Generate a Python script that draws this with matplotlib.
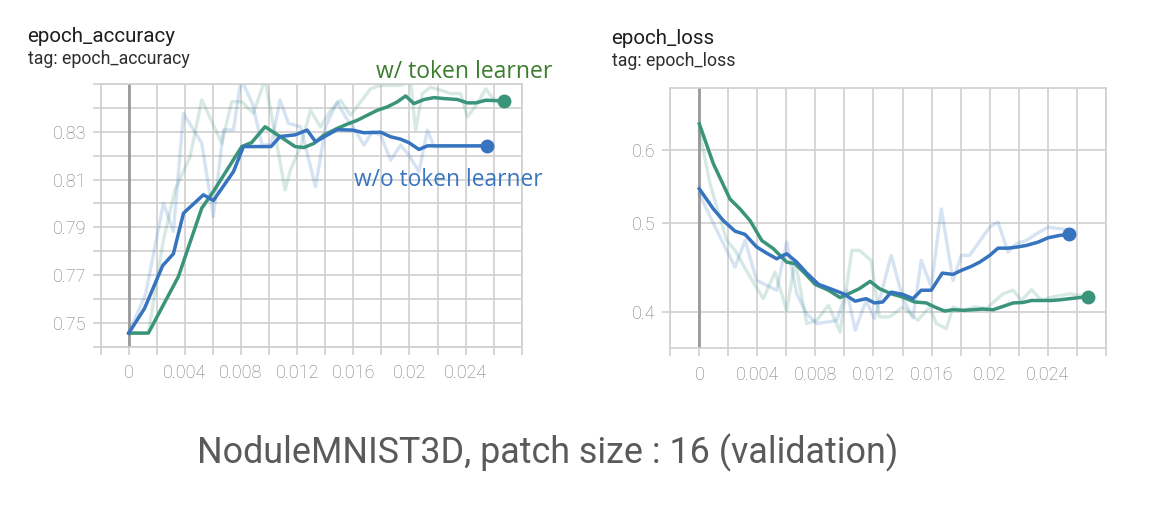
import matplotlib
matplotlib.use("Agg")
import matplotlib.pyplot as plt
import numpy as np

# ---------------- data ----------------
# epoch_accuracy, w/o token learner (blue)
acc_wo_x = [0, 0.00112, 0.00242, 0.00318, 0.0039, 0.00532, 0.00603, 0.00675, 0.00746, 0.00817,
            0.0088, 0.0095, 0.01014, 0.01078, 0.01185, 0.01271, 0.01331, 0.01402, 0.01485, 0.01592,
            0.01676, 0.01795, 0.01866, 0.01937, 0.01997, 0.02068, 0.02128, 0.02556]
acc_wo_smooth = [0.7457, 0.7560, 0.7740, 0.7789, 0.7959, 0.8036, 0.8012, 0.8073, 0.8133, 0.8238,
                 0.8238, 0.8238, 0.8238, 0.8280, 0.8287, 0.8307, 0.8258, 0.8282, 0.8309, 0.8307,
                 0.8296, 0.8298, 0.8279, 0.8269, 0.8254, 0.8226, 0.8241, 0.8241]
acc_wo_raw_x = [0, 0.0012, 0.00247, 0.00318, 0.0039, 0.0052, 0.00603, 0.00675, 0.00746, 0.0080,
                0.0088, 0.0095, 0.01014, 0.01078, 0.01138, 0.01224, 0.01331, 0.01402, 0.01485,
                0.01545, 0.0161, 0.01676, 0.01735, 0.01795, 0.01866, 0.01937, 0.01997, 0.02068,
                0.02128, 0.02175, 0.02556]
acc_wo_raw = [0.7457, 0.7620, 0.8001, 0.7882, 0.8377, 0.8252, 0.7945, 0.8308, 0.8308, 0.8520,
              0.8420, 0.8245, 0.8245, 0.8433, 0.8335, 0.8321, 0.8070, 0.8321, 0.8425,
              0.8362, 0.8310, 0.8244, 0.8300, 0.8286, 0.8181, 0.8244, 0.8202, 0.8133,
              0.8307, 0.8237, 0.8241]

# epoch_accuracy, w/ token learner (green)
acc_w_x = [0, 0.0014, 0.00354, 0.0052, 0.00603, 0.00805, 0.00876, 0.00971, 0.01078, 0.01185,
           0.01248, 0.01319, 0.0139, 0.01485, 0.01557, 0.01628, 0.01699, 0.01771, 0.01842,
           0.01913, 0.01973, 0.02032, 0.02104, 0.02175, 0.02246, 0.02342, 0.02413, 0.02472,
           0.02544, 0.02674]
acc_w_smooth = [0.7457, 0.7457, 0.7694, 0.7980, 0.8050, 0.8238, 0.8255, 0.8321, 0.8280, 0.8238,
                0.8234, 0.8251, 0.8286, 0.8314, 0.8332, 0.8348, 0.8369, 0.8390, 0.8404,
                0.8425, 0.8450, 0.8418, 0.8435, 0.8443, 0.8439, 0.8435, 0.8421, 0.8421,
                0.8432, 0.8429]
acc_w_raw_x = [0, 0.0014, 0.00247, 0.0033, 0.00437, 0.0052, 0.00663, 0.00734, 0.00805, 0.00888,
               0.00971, 0.01114, 0.01152, 0.01224, 0.01295, 0.01366, 0.01438, 0.01509, 0.0158,
               0.01652, 0.01723, 0.01795, 0.01866, 0.01937, 0.02009, 0.02044, 0.02092, 0.02151,
               0.02223, 0.02294, 0.02365, 0.02413, 0.02484, 0.02544, 0.02603, 0.02674]
acc_w_raw = [0.7457, 0.7457, 0.7847, 0.8057, 0.8196, 0.8433, 0.8252, 0.8426, 0.8426, 0.8377,
             0.8520, 0.8057, 0.8140, 0.8237, 0.8390, 0.8320, 0.8390, 0.8432, 0.8369,
             0.8425, 0.8480, 0.8494, 0.8494, 0.8494, 0.8510, 0.8307, 0.8460, 0.8487,
             0.8474, 0.8460, 0.8460, 0.8362, 0.8418, 0.8480, 0.8432, 0.8429]

# epoch_loss, w/o token learner (blue)
loss_wo_x = [0, 0.000966, 0.00166, 0.00246, 0.00315, 0.00395, 0.00464, 0.00533, 0.00602, 0.00671,
             0.0074, 0.00821, 0.00901, 0.00993, 0.01074, 0.01149, 0.01207, 0.01264, 0.01322,
             0.01403, 0.01472, 0.01529, 0.01598, 0.01674, 0.01748, 0.01805, 0.01874, 0.01932,
             0.02001, 0.02058, 0.02127, 0.02185, 0.02254, 0.02335, 0.02404, 0.02484, 0.02549]
loss_wo_smooth = [0.5447, 0.518, 0.503, 0.490, 0.486, 0.471, 0.4638, 0.4573, 0.4631, 0.4535,
                  0.4412, 0.429, 0.4244, 0.419, 0.4113, 0.4139, 0.4095, 0.4105, 0.4207,
                  0.4183, 0.4139, 0.4227, 0.4227, 0.4412, 0.4398, 0.4442, 0.4487, 0.4535,
                  0.4612, 0.4696, 0.4696, 0.4708, 0.4728, 0.4768, 0.482, 0.4848, 0.486]
loss_wo_raw_x = [0, 0.000966, 0.00246, 0.00315, 0.00395, 0.00464, 0.00533, 0.00602, 0.00671,
                 0.0074, 0.00809, 0.0089, 0.00947, 0.01016, 0.01074, 0.01149, 0.01207, 0.01322,
                 0.01403, 0.01472, 0.01529, 0.01598, 0.01667, 0.01748, 0.01805, 0.01863,
                 0.02001, 0.02058, 0.02127, 0.02185, 0.02254, 0.02323, 0.02404, 0.02484, 0.02549]
loss_wo_raw = [0.538, 0.4996, 0.4478, 0.4787, 0.4333, 0.4279, 0.4226, 0.4768, 0.419,
               0.3986, 0.3889, 0.3906, 0.3921, 0.4226, 0.3824, 0.412, 0.3937, 0.4612,
               0.4139, 0.3946, 0.4555, 0.4262, 0.518, 0.4333, 0.4612, 0.4612,
               0.495, 0.5012, 0.465, 0.4749, 0.4787, 0.4868, 0.495, 0.4929, 0.492]

# epoch_loss, w/ token learner (green)
loss_w_x = [0, 0.000966, 0.00211, 0.0028, 0.0035, 0.0043, 0.0051, 0.00602, 0.0066, 0.00729,
            0.00798, 0.0089, 0.0097, 0.0104, 0.01103, 0.01177, 0.01241, 0.01322, 0.01403,
            0.01483, 0.01564, 0.01621, 0.0169, 0.01748, 0.01817, 0.01886, 0.01955, 0.02024,
            0.02093, 0.02162, 0.02231, 0.02289, 0.02358, 0.02427, 0.02484, 0.02553, 0.0268]
loss_w_smooth = [0.6407, 0.580, 0.531, 0.518, 0.503, 0.4787, 0.469, 0.4535, 0.4517, 0.4406,
                 0.429, 0.4227, 0.415, 0.4198, 0.4244, 0.4322, 0.4244, 0.419, 0.4155,
                 0.4105, 0.4095, 0.4054, 0.4013, 0.4026, 0.402, 0.4026, 0.4033, 0.4026,
                 0.406, 0.4095, 0.410, 0.412, 0.412, 0.412, 0.4127, 0.4139, 0.416]
loss_w_raw_x = [0, 0.00074, 0.00189, 0.00246, 0.0035, 0.00441, 0.00522, 0.00602, 0.0066, 0.0074,
                0.00809, 0.0089, 0.0097, 0.01051, 0.01103, 0.01184, 0.01241, 0.0131, 0.01403,
                0.01506, 0.01587, 0.01633, 0.01702, 0.01748, 0.01817, 0.01897, 0.01978,
                0.02093, 0.02162, 0.0222, 0.02289, 0.02358, 0.02427, 0.02553, 0.02622, 0.0268]
loss_w_raw = [0.63, 0.5515, 0.4787, 0.4671, 0.4369, 0.4139, 0.4423, 0.4019, 0.4555, 0.3889,
              0.3921, 0.4071, 0.3808, 0.4671, 0.4671, 0.4555, 0.3954, 0.3954, 0.4054,
              0.3921, 0.4054, 0.3889, 0.384, 0.4054, 0.402, 0.4054, 0.4037,
              0.419, 0.4227, 0.412, 0.4234, 0.412, 0.4155, 0.419, 0.4172, 0.416]

x_grid = [-0.002, 0, 0.002, 0.004, 0.006, 0.008, 0.010, 0.012, 0.014, 0.016, 0.018, 0.020,
          0.022, 0.024, 0.026, 0.028]
x_labels = ["", "0", "", "0.004", "", "0.008", "", "0.012", "", "0.016", "", "0.02",
            "", "0.024", "", ""]
acc_grid = [0.74, 0.75, 0.76, 0.77, 0.78, 0.79, 0.80, 0.81, 0.82, 0.83, 0.84, 0.85]
acc_labels = ["", "0.75", "", "0.77", "", "0.79", "", "0.81", "", "0.83", "", ""]
loss_ticks = [0.4, 0.5, 0.6]
loss_labels = ["0.4", "0.5", "0.6"]

titles = ["epoch_accuracy", "epoch_loss"]
caption = "NoduleMNIST3D, patch size : 16 (validation)"

# ---------------- style ----------------
plt.rcParams['font.family'] = ['Roboto', 'DejaVu Sans']
BLUE = '#3674bf'
GREEN = '#3a947a'
GRID = '#d0d0d0'
W, H = 1168, 512
fig = plt.figure(figsize=(W / 100, H / 100), dpi=100)

def px_axes(l, t, r, b):
    return fig.add_axes([l / W, 1 - b / H, (r - l) / W, (b - t) / H])

ax1 = px_axes(100.7, 84.0, 521.7, 346.7)
ax2 = px_axes(670.3, 88.3, 1105.7, 348.3)

def style(ax):
    ax.set_facecolor('white')
    for s in ax.spines.values():
        s.set_color(GRID)
        s.set_linewidth(1.2)
    ax.grid(True, color=GRID, linewidth=1.2)
    ax.set_axisbelow(True)
    ax.tick_params(axis='both', which='major', direction='out', length=5.5, width=1.2,
                   color=GRID, labelcolor='#777777', labelsize=13)
    ax.tick_params(axis='x', pad=7)
    ax.tick_params(axis='y', pad=5)
    ax.tick_params(which='minor', left=False, bottom=False)
    ax.axvline(0, color='#9a9a9a', linewidth=2.0, zorder=1.5)

# accuracy
ax1.set_xlim(-0.002, 0.028)
ax1.set_ylim(0.74, 0.85)
ax1.set_xticks(x_grid)
ax1.set_xticklabels(x_labels)
ax1.set_yticks(acc_grid)
ax1.set_yticklabels(acc_labels)
style(ax1)
ax1.plot(acc_wo_raw_x, acc_wo_raw, color=BLUE, alpha=0.2, lw=2.4, zorder=2)
ax1.plot(acc_w_raw_x, acc_w_raw, color=GREEN, alpha=0.2, lw=2.4, zorder=2)
ax1.plot(acc_w_x, acc_w_smooth, color=GREEN, lw=2.5, zorder=3, solid_joinstyle='round')
ax1.plot(acc_wo_x, acc_wo_smooth, color=BLUE, lw=2.5, zorder=3, solid_joinstyle='round')
ax1.plot(acc_w_x[-1], acc_w_smooth[-1], 'o', color=GREEN, ms=9, zorder=4)
ax1.plot(acc_wo_x[-1], acc_wo_smooth[-1], 'o', color=BLUE, ms=9, zorder=4)

# loss
ax2.set_yscale('log')
ax2.set_xlim(-0.002, 0.028)
ax2.set_ylim(0.3656, 0.7003)
ax2.set_xticks(x_grid)
ax2.set_xticklabels(x_labels)
ax2.set_yticks(loss_ticks)
ax2.set_yticklabels(loss_labels)
ax2.yaxis.set_minor_locator(matplotlib.ticker.NullLocator())
style(ax2)
ax2.plot(loss_wo_raw_x, loss_wo_raw, color=BLUE, alpha=0.2, lw=2.4, zorder=2)
ax2.plot(loss_w_raw_x, loss_w_raw, color=GREEN, alpha=0.2, lw=2.4, zorder=2)
ax2.plot(loss_w_x, loss_w_smooth, color=GREEN, lw=2.5, zorder=3, solid_joinstyle='round')
ax2.plot(loss_wo_x, loss_wo_smooth, color=BLUE, lw=2.5, zorder=3, solid_joinstyle='round')
ax2.plot(loss_w_x[-1], loss_w_smooth[-1], 'o', color=GREEN, ms=9, zorder=4)
ax2.plot(loss_wo_x[-1], loss_wo_smooth[-1], 'o', color=BLUE, ms=9, zorder=4)

for ax in (ax1, ax2):
    for lab in ax.get_xticklabels() + ax.get_yticklabels():
        lab.set_fontweight('light')

# titles
fig.text(27.5 / W, 1 - 36.5 / H, titles[0], fontsize=14.8, color='#1e1e1e', va='center', ha='left')
fig.text(27.5 / W, 1 - 59 / H, "tag: " + titles[0], fontsize=12.8, color='#2e2e2e', va='center', ha='left')
fig.text(611.5 / W, 1 - 39 / H, titles[1], fontsize=14.8, color='#1e1e1e', va='center', ha='left')
fig.text(611.5 / W, 1 - 61 / H, "tag: " + titles[1], fontsize=12.8, color='#2e2e2e', va='center', ha='left')

# annotations
fig.text(376 / W, 1 - 72.5 / H, "w/ token learner", fontsize=16.5, family=['Open Sans', 'DejaVu Sans'],
         color='#3a7d2c', va='center', ha='left')
fig.text(354 / W, 1 - 179.5 / H, "w/o token learner", fontsize=16.4, family=['Open Sans', 'DejaVu Sans'],
         color='#3a75c0', va='center', ha='left')

# caption
fig.text(547.5 / W, 1 - 453 / H, caption, fontsize=25.8, color='#5a5a5a', va='center', ha='center')

fig.savefig("out.png", dpi=100, facecolor='white')
